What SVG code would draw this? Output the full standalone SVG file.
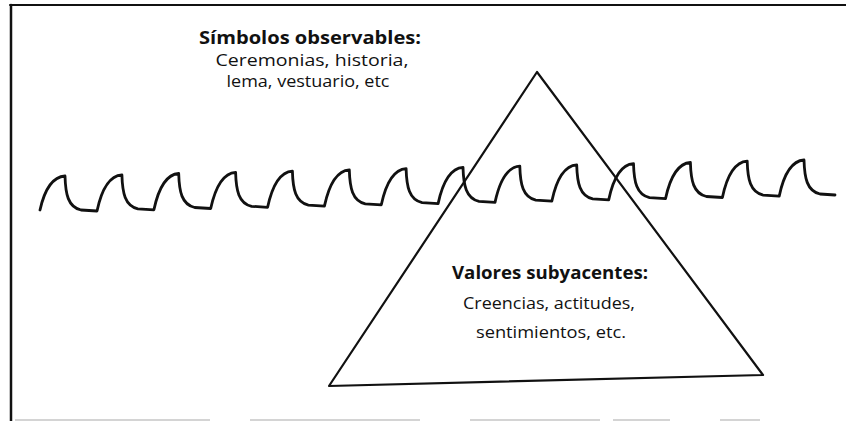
<svg xmlns="http://www.w3.org/2000/svg" width="846" height="421" viewBox="0 0 846 421">
<style>
.line{fill:none;stroke:#111;stroke-linejoin:round;stroke-linecap:round}
.t{font-family:"Open Sans","Noto Sans","Liberation Sans",sans-serif;fill:#111;text-anchor:middle}
.b{font-weight:700;font-size:17px}
.r{font-weight:400;font-size:16px}
</style>
<rect width="846" height="421" fill="#fff"/>
<g id="border">
<line class="line" x1="11" y1="5" x2="11" y2="421" stroke-width="2.5"/>
<line class="line" x1="10" y1="5" x2="846" y2="5" stroke-width="2"/>
<path d="M15 420H210M250 420H420M470 420H600M613 420H670M720 420H760" fill="none" stroke="#aaa" stroke-width="1.2"/>
</g>
<g id="wave">
<path class="line" stroke-width="2.8" d="M40 210 C 44 192 51 177 65 176 C 65.5 194 68 207 81 210 L 97 211
C 101 192 107.9 175.8 121.9 174.8 C 122.4 192.8 124.9 205.8 137.9 208.8 L 153.9 209.8
C 157.9 191 164.7 174.5 178.7 173.5 C 179.2 191.5 181.7 204.5 194.7 207.5 L 210.7 208.5
C 214.8 189.5 221.6 173.3 235.6 172.3 C 236.1 190.3 238.6 203.3 251.6 206.3 L 267.6 207.3
C 271.6 188.5 278.4 172.1 292.4 171.1 C 292.9 189.1 295.4 202.1 308.4 205.1 L 324.4 206.1
C 328.5 187 335.3 170.8 349.3 169.8 C 349.8 187.8 352.3 200.8 365.3 203.8 L 381.3 204.8
C 385.3 186 392.1 169.6 406.1 168.6 C 406.6 186.6 409.1 199.6 422.1 202.6 L 438.1 203.6
C 442.2 184.5 449 168.4 463 167.4 C 463.5 185.4 466 198.4 479 201.4 L 495 202.4
C 499 183.5 505.8 167.2 519.8 166.2 C 520.3 184.2 522.8 197.2 535.8 200.2 L 551.8 201.2
C 555.9 182 562.7 165.9 576.7 164.9 C 577.2 182.9 579.7 195.9 592.7 198.9 L 608.7 199.9
C 612.7 181 619.5 164.7 633.5 163.7 C 634 181.7 636.5 194.7 649.5 197.7 L 665.5 198.7
C 669.6 179.5 676.4 163.5 690.4 162.5 C 690.9 180.5 693.4 193.5 706.4 196.5 L 722.4 197.5
C 726.4 178.5 733.2 162.2 747.2 161.2 C 747.7 179.2 750.2 192.2 763.2 195.2 L 779.2 196.2
C 783.2 177 790 161 804 160 C 804.5 178 807 191 820 194 L 835 195"/>
</g>
<g id="triangle">
<path class="line" stroke-width="2.2" d="M537 72 L763 375 L329 386 Z"/>
</g>
<g id="observable-symbols">
<text class="t b" x="310" y="44" textLength="222" lengthAdjust="spacingAndGlyphs">Símbolos observables:</text>
<text class="t r" x="312" y="66" textLength="193" lengthAdjust="spacingAndGlyphs">Ceremonias, historia,</text>
<text class="t r" x="308" y="87" textLength="163" lengthAdjust="spacingAndGlyphs">lema, vestuario, etc</text>
</g>
<g id="underlying-values">
<text class="t b" x="550" y="279" textLength="196" lengthAdjust="spacingAndGlyphs">Valores subyacentes:</text>
<text class="t r" x="549" y="309" textLength="172" lengthAdjust="spacingAndGlyphs">Creencias, actitudes,</text>
<text class="t r" x="551" y="338" textLength="150" lengthAdjust="spacingAndGlyphs">sentimientos, etc.</text>
</g>
</svg>
